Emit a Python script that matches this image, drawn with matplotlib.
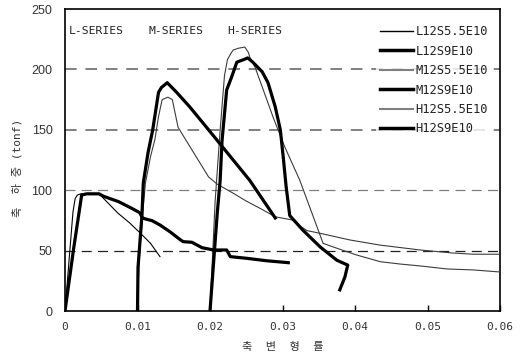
import matplotlib
matplotlib.use("Agg")
import matplotlib.pyplot as plt
from matplotlib.lines import Line2D

# ---------------- data ----------------
l_thin_x = [0, 0.0006, 0.0011, 0.0014, 0.0017, 0.0022, 0.0035, 0.0047, 0.0060, 0.0073, 0.0089, 0.0103, 0.0118, 0.0131]
l_thin_y = [0, 45, 82, 93, 96, 97, 97, 97, 89, 81, 73, 65, 56, 45]

l_thick_x = [0, 0.0012, 0.0023, 0.0030, 0.0047, 0.0053, 0.0074, 0.0092, 0.0103, 0.0107, 0.0112,
             0.0120, 0.0131, 0.0145, 0.0159, 0.0163, 0.0175, 0.0189, 0.0205, 0.0223, 0.0228,
             0.0251, 0.0278, 0.0308]
l_thick_y = [0, 52, 96, 97, 97, 95, 90.5, 85, 81.4, 77, 76,
             74.8, 71.2, 65.5, 59, 57.4, 56.9, 52.4, 50.5, 50.5, 45,
             43.6, 41.6, 40]

m_thin_x = [0.0100, 0.0102, 0.0107, 0.0111, 0.0118, 0.0124, 0.0129, 0.0134, 0.0142, 0.0148, 0.0156,
            0.0198, 0.0210, 0.0232, 0.0250, 0.0269, 0.0290, 0.0314, 0.0325, 0.0334, 0.0352,
            0.0393, 0.0434, 0.0490, 0.0535, 0.0563, 0.0600]
m_thin_y = [0, 40, 80, 106, 128, 142, 161, 175, 177, 175, 152,
            111, 105, 97.5, 91, 85, 78, 75.3, 70, 66.5, 64.3,
            58.8, 54.6, 50.5, 48, 47, 47]

m_thick_x = [0.0100, 0.01007, 0.0106, 0.0108, 0.01145, 0.0121, 0.0129, 0.0133, 0.0141, 0.0154,
             0.0172, 0.0196, 0.0255, 0.0290]
m_thick_y = [0, 36, 78, 106, 131, 150, 181, 185, 189, 181,
             169, 151.5, 108, 77]

h_thin_x = [0.0200, 0.0207, 0.0214, 0.0220, 0.0224, 0.0229, 0.0232, 0.0239, 0.0248, 0.0253, 0.0255,
            0.0262, 0.0272, 0.0287, 0.0303, 0.0324, 0.0356, 0.0370, 0.0402, 0.0435, 0.0462,
            0.0490, 0.0527, 0.0563, 0.0600]
h_thin_y = [0, 90, 150, 195, 208, 213.5, 216, 217.5, 218.5, 214, 210,
            202, 185.5, 160.5, 136, 108, 56, 53, 46.4, 40.8, 38.9,
            37.3, 34.8, 34, 32.3]

h_thick_x = [0.0200, 0.0210, 0.0214, 0.02166, 0.0223, 0.0230, 0.0237, 0.0246, 0.0252, 0.0259,
             0.0272, 0.0280, 0.0290, 0.0297, 0.0301, 0.0305, 0.0310, 0.0328, 0.0352, 0.0375,
             0.0390, 0.0386, 0.0379]
h_thick_y = [0, 81, 108, 141, 183, 194, 206, 208, 209.5, 206,
             198, 189, 169, 150, 127.5, 103, 79, 67, 53, 42,
             38, 28, 17.5]

series_labels = ["L12S5.5E10", "L12S9E10", "M12S5.5E10", "M12S9E10", "H12S5.5E10", "H12S9E10"]
group_labels = ["L-SERIES", "M-SERIES", "H-SERIES"]
group_label_x = [0.00055, 0.01145, 0.02234]
group_label_y = 232
grid_levels = [50, 100, 150, 200]
x_ticks = [0, 0.01, 0.02, 0.03, 0.04, 0.05, 0.06]
x_tick_labels = ["0", "0.01", "0.02", "0.03", "0.04", "0.05", "0.06"]
y_ticks = [0, 50, 100, 150, 200, 250]
y_tick_labels = ["0", "50", "100", "150", "200", "250"]
x_label = "축  변  형  률"
y_label = "축  하 중 (tonf)"

# ---------------- figure ----------------
fig = plt.figure(figsize=(5.23, 3.58), dpi=100)
ax = fig.add_axes([65/523, 1-311/358, 435/523, 302/358])

thin_k = dict(color="black", lw=0.8, zorder=3)
thin_g = dict(color="#3c3c3c", lw=0.8, zorder=3)
thick = dict(color="black", lw=2.3, zorder=4, solid_joinstyle="round")

ax.plot(l_thin_x, l_thin_y, **thin_k)
ax.plot(l_thick_x, l_thick_y, **thick)
ax.plot(m_thin_x, m_thin_y, **thin_g)
ax.plot(m_thick_x, m_thick_y, **thick)
ax.plot(h_thin_x, h_thin_y, **thin_g)
ax.plot(h_thick_x, h_thick_y, **thick)

# dashed grid lines
for lev in grid_levels:
    if lev >= 150:
        ax.axhline(lev, color="#808080", lw=1.4, dashes=(6, 4.5), zorder=1)
    elif lev == 100:
        ax.axhline(lev, color="#808080", lw=0.9, dashes=(8, 5), zorder=1)
    else:
        ax.axhline(lev, color="#222222", lw=0.9, dashes=(8, 5), zorder=1)

ax.set_xlim(0, 0.06)
ax.set_ylim(0, 250)
ax.set_xticks(x_ticks)
ax.set_xticklabels(x_tick_labels, family="DejaVu Sans Mono", fontsize=8, color="#333333")
ax.set_yticks(y_ticks)
ax.set_yticklabels(y_tick_labels, family="Liberation Sans", fontsize=9, color="#333333")
ax.tick_params(axis="x", direction="in", length=4, width=1, pad=8)
ax.tick_params(axis="y", length=0, pad=9)
for s in ax.spines.values():
    s.set_linewidth(1.2)
    s.set_color("black")

for lab, gx in zip(group_labels, group_label_x):
    ax.text(gx, group_label_y, lab, family="DejaVu Sans Mono", fontsize=8.2,
            color="#222222", va="center", ha="left", zorder=5)

ax.set_xlabel(x_label, family=["DejaVu Sans Mono", "Noto Sans CJK KR"], fontsize=8,
              color="#333333")
ax.xaxis.set_label_coords(0.5, -0.103)
ax.set_ylabel(y_label, family=["DejaVu Sans Mono", "Noto Sans CJK KR"], fontsize=8,
              color="#333333")
ax.yaxis.set_label_coords(-0.097, 0.475)

handles = [
    Line2D([], [], color="black", lw=1.0),
    Line2D([], [], color="black", lw=2.5),
    Line2D([], [], color="#808080", lw=1.5),
    Line2D([], [], color="black", lw=2.5),
    Line2D([], [], color="#808080", lw=1.5),
    Line2D([], [], color="black", lw=2.5),
]
leg = ax.legend(handles, series_labels, loc="upper left", bbox_to_anchor=(0.715, 0.958),
                prop={"family": "DejaVu Sans Mono", "size": 8.7}, frameon=True,
                handlelength=2.73, handletextpad=0.25, labelspacing=0.53,
                borderpad=0.3, borderaxespad=0, fancybox=False)
leg.get_frame().set_facecolor("white")
leg.get_frame().set_edgecolor("white")
leg.get_frame().set_linewidth(0)
leg.set_zorder(6)
for t in leg.get_texts():
    t.set_color("#222222")

fig.savefig("out.png", dpi=100)
